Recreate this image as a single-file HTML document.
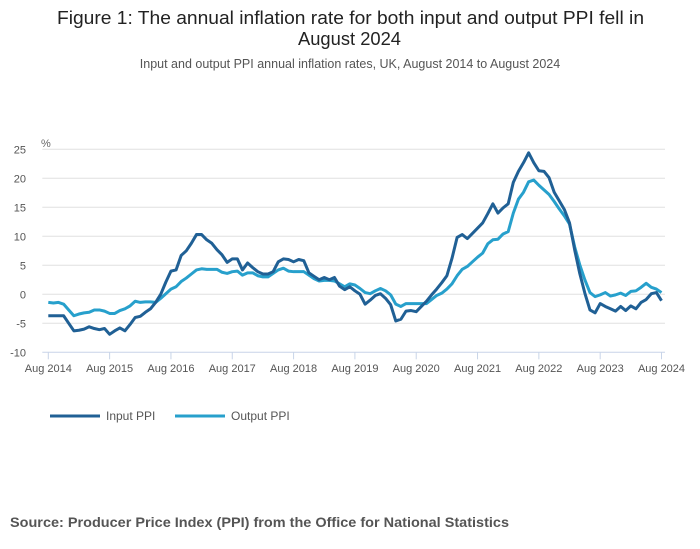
<!DOCTYPE html>
<html><head><meta charset="utf-8">
<style>
body{margin:0;background:#fff;font-family:"Liberation Sans",sans-serif;}
#wrap{position:relative;width:700px;height:549px;overflow:hidden;}
</style></head>
<body>
<div id="wrap">
<svg id="svg" width="700" height="549" xmlns="http://www.w3.org/2000/svg">
<text x="57" y="24" textLength="587" lengthAdjust="spacingAndGlyphs" font-size="18" fill="#222">Figure 1: The annual inflation rate for both input and output PPI fell in</text>
<text x="298" y="45" textLength="103" lengthAdjust="spacingAndGlyphs" font-size="18" fill="#222">August 2024</text>
<text x="350" y="68" text-anchor="middle" font-size="12.5" fill="#555">Input and output PPI annual inflation rates, UK, August 2014 to August 2024</text>
<text x="41" y="147" font-size="11" fill="#666">%</text>
<g id="grid"></g><g id="xaxis"></g><g id="series"></g>
<g>
<line x1="50" y1="416" x2="100" y2="416" stroke="#206095" stroke-width="3"/>
<text x="106" y="420" font-size="12" fill="#555">Input PPI</text>
<line x1="175" y1="416" x2="225" y2="416" stroke="#27a0cc" stroke-width="3"/>
<text x="231" y="420" font-size="12" fill="#555">Output PPI</text>
</g>
<text x="10" y="527" textLength="499" lengthAdjust="spacingAndGlyphs" font-size="14" font-weight="bold" fill="#555">Source: Producer Price Index (PPI) from the Office for National Statistics</text>
</svg>
</div>
<script>
const yTicks=[25,20,15,10,5,0,-5,-10];
const xTickLabels=["Aug 2014","Aug 2015","Aug 2016","Aug 2017","Aug 2018","Aug 2019","Aug 2020","Aug 2021","Aug 2022","Aug 2023","Aug 2024"];
const inputPPI=[-3.7,-3.7,-3.7,-3.7,-5.0,-6.3,-6.2,-6.0,-5.6,-5.9,-6.1,-5.9,-6.9,-6.3,-5.8,-6.3,-5.2,-4.0,-3.8,-3.1,-2.5,-1.4,0,2.1,4.0,4.2,6.7,7.5,8.8,10.3,10.3,9.4,8.8,7.7,6.8,5.5,6.1,6.1,4.2,5.4,4.6,3.9,3.5,3.5,3.9,5.6,6.1,6.0,5.6,6.0,5.8,3.7,3.1,2.5,2.9,2.5,2.9,1.4,0.8,1.3,0.6,0,-1.7,-1.0,-0.2,0.1,-0.7,-1.8,-4.6,-4.3,-2.9,-2.8,-3.0,-2.1,-1.2,-0.1,0.9,2.0,3.2,6.2,9.8,10.3,9.6,10.5,11.4,12.3,13.9,15.6,14.0,14.9,15.6,19.3,21.2,22.7,24.4,22.7,21.3,21.2,20.1,17.6,16.1,14.6,12.3,7.7,3.6,0.2,-2.7,-3.2,-1.6,-2.1,-2.5,-2.9,-2.1,-2.8,-2.0,-2.5,-1.4,-0.9,0.1,0.3,-1.1];
const outputPPI=[-1.4,-1.5,-1.4,-1.7,-2.7,-3.7,-3.4,-3.2,-3.1,-2.7,-2.7,-2.9,-3.3,-3.3,-2.8,-2.5,-2.0,-1.2,-1.4,-1.3,-1.3,-1.4,-0.7,0.1,0.9,1.3,2.2,2.8,3.5,4.2,4.4,4.3,4.3,4.3,3.8,3.6,3.9,4.0,3.3,3.7,3.7,3.2,3.0,3.0,3.6,4.2,4.5,4.0,3.9,3.9,3.9,3.3,2.7,2.3,2.4,2.4,2.3,1.8,1.3,1.8,1.6,1.0,0.3,0.1,0.6,1.0,0.6,-0.1,-1.7,-2.1,-1.6,-1.6,-1.6,-1.6,-1.6,-0.9,-0.2,0.2,0.9,1.8,3.2,4.3,4.8,5.6,6.4,7.1,8.7,9.4,9.5,10.4,10.8,14.0,16.4,17.6,19.4,19.7,18.8,18.0,17.2,16.0,14.7,13.5,12.1,8.2,5.1,2.5,0.3,-0.4,-0.1,0.3,-0.3,-0.1,0.2,-0.2,0.5,0.6,1.2,1.9,1.2,0.9,0.3];
const NS="http://www.w3.org/2000/svg";
const x0=48.3,x1=661.5,y0=294.3,pxPerUnit=5.8,nMonths=120;
function xs(i){return x0+i*(x1-x0)/nMonths;}
function ys(v){return y0-v*pxPerUnit;}
function mk(tag,attrs,parent){const e=document.createElementNS(NS,tag);for(const k in attrs)e.setAttribute(k,attrs[k]);parent.appendChild(e);return e;}
const grid=document.getElementById('grid');
yTicks.forEach(v=>{
  if(v>-10){const l=mk('line',{x1:x0-6,x2:665,y1:ys(v),y2:ys(v),stroke:'#e0e0e0','stroke-width':1},grid);
  
  }
  const t=mk('text',{x:26,y:ys(v)+4,'text-anchor':'end','font-size':11,fill:'#555'},grid);
  t.textContent=v;
  
  
});
const xa=document.getElementById('xaxis');
const ax=mk('line',{x1:x0-6,x2:665,y1:ys(-10),y2:ys(-10),stroke:'#c8d4e8','stroke-width':1},xa);


xTickLabels.forEach((lab,k)=>{
  const x=xs(k*12);
  const tk=mk('line',{x1:x,x2:x,y1:ys(-10),y2:ys(-10)+7,stroke:'#c8d4e8','stroke-width':1},xa);
  
  
  const t=mk('text',{x:x,y:372,'text-anchor':'middle','font-size':11,fill:'#555'},xa);
  t.textContent=lab;
  
  
});
const sg=document.getElementById('series');
function draw(arr,color,name){
  const d=arr.map((v,i)=>(i?'L':'M')+xs(i).toFixed(2)+' '+ys(v).toFixed(2)).join(' ');
  const p=mk('path',{d:d,fill:'none',stroke:color,'stroke-width':3,'stroke-linejoin':'round'},sg);
  
  
}
draw(outputPPI,'#27a0cc','output-ppi-line');
draw(inputPPI,'#206095','input-ppi-line');
</script>
</body></html>
